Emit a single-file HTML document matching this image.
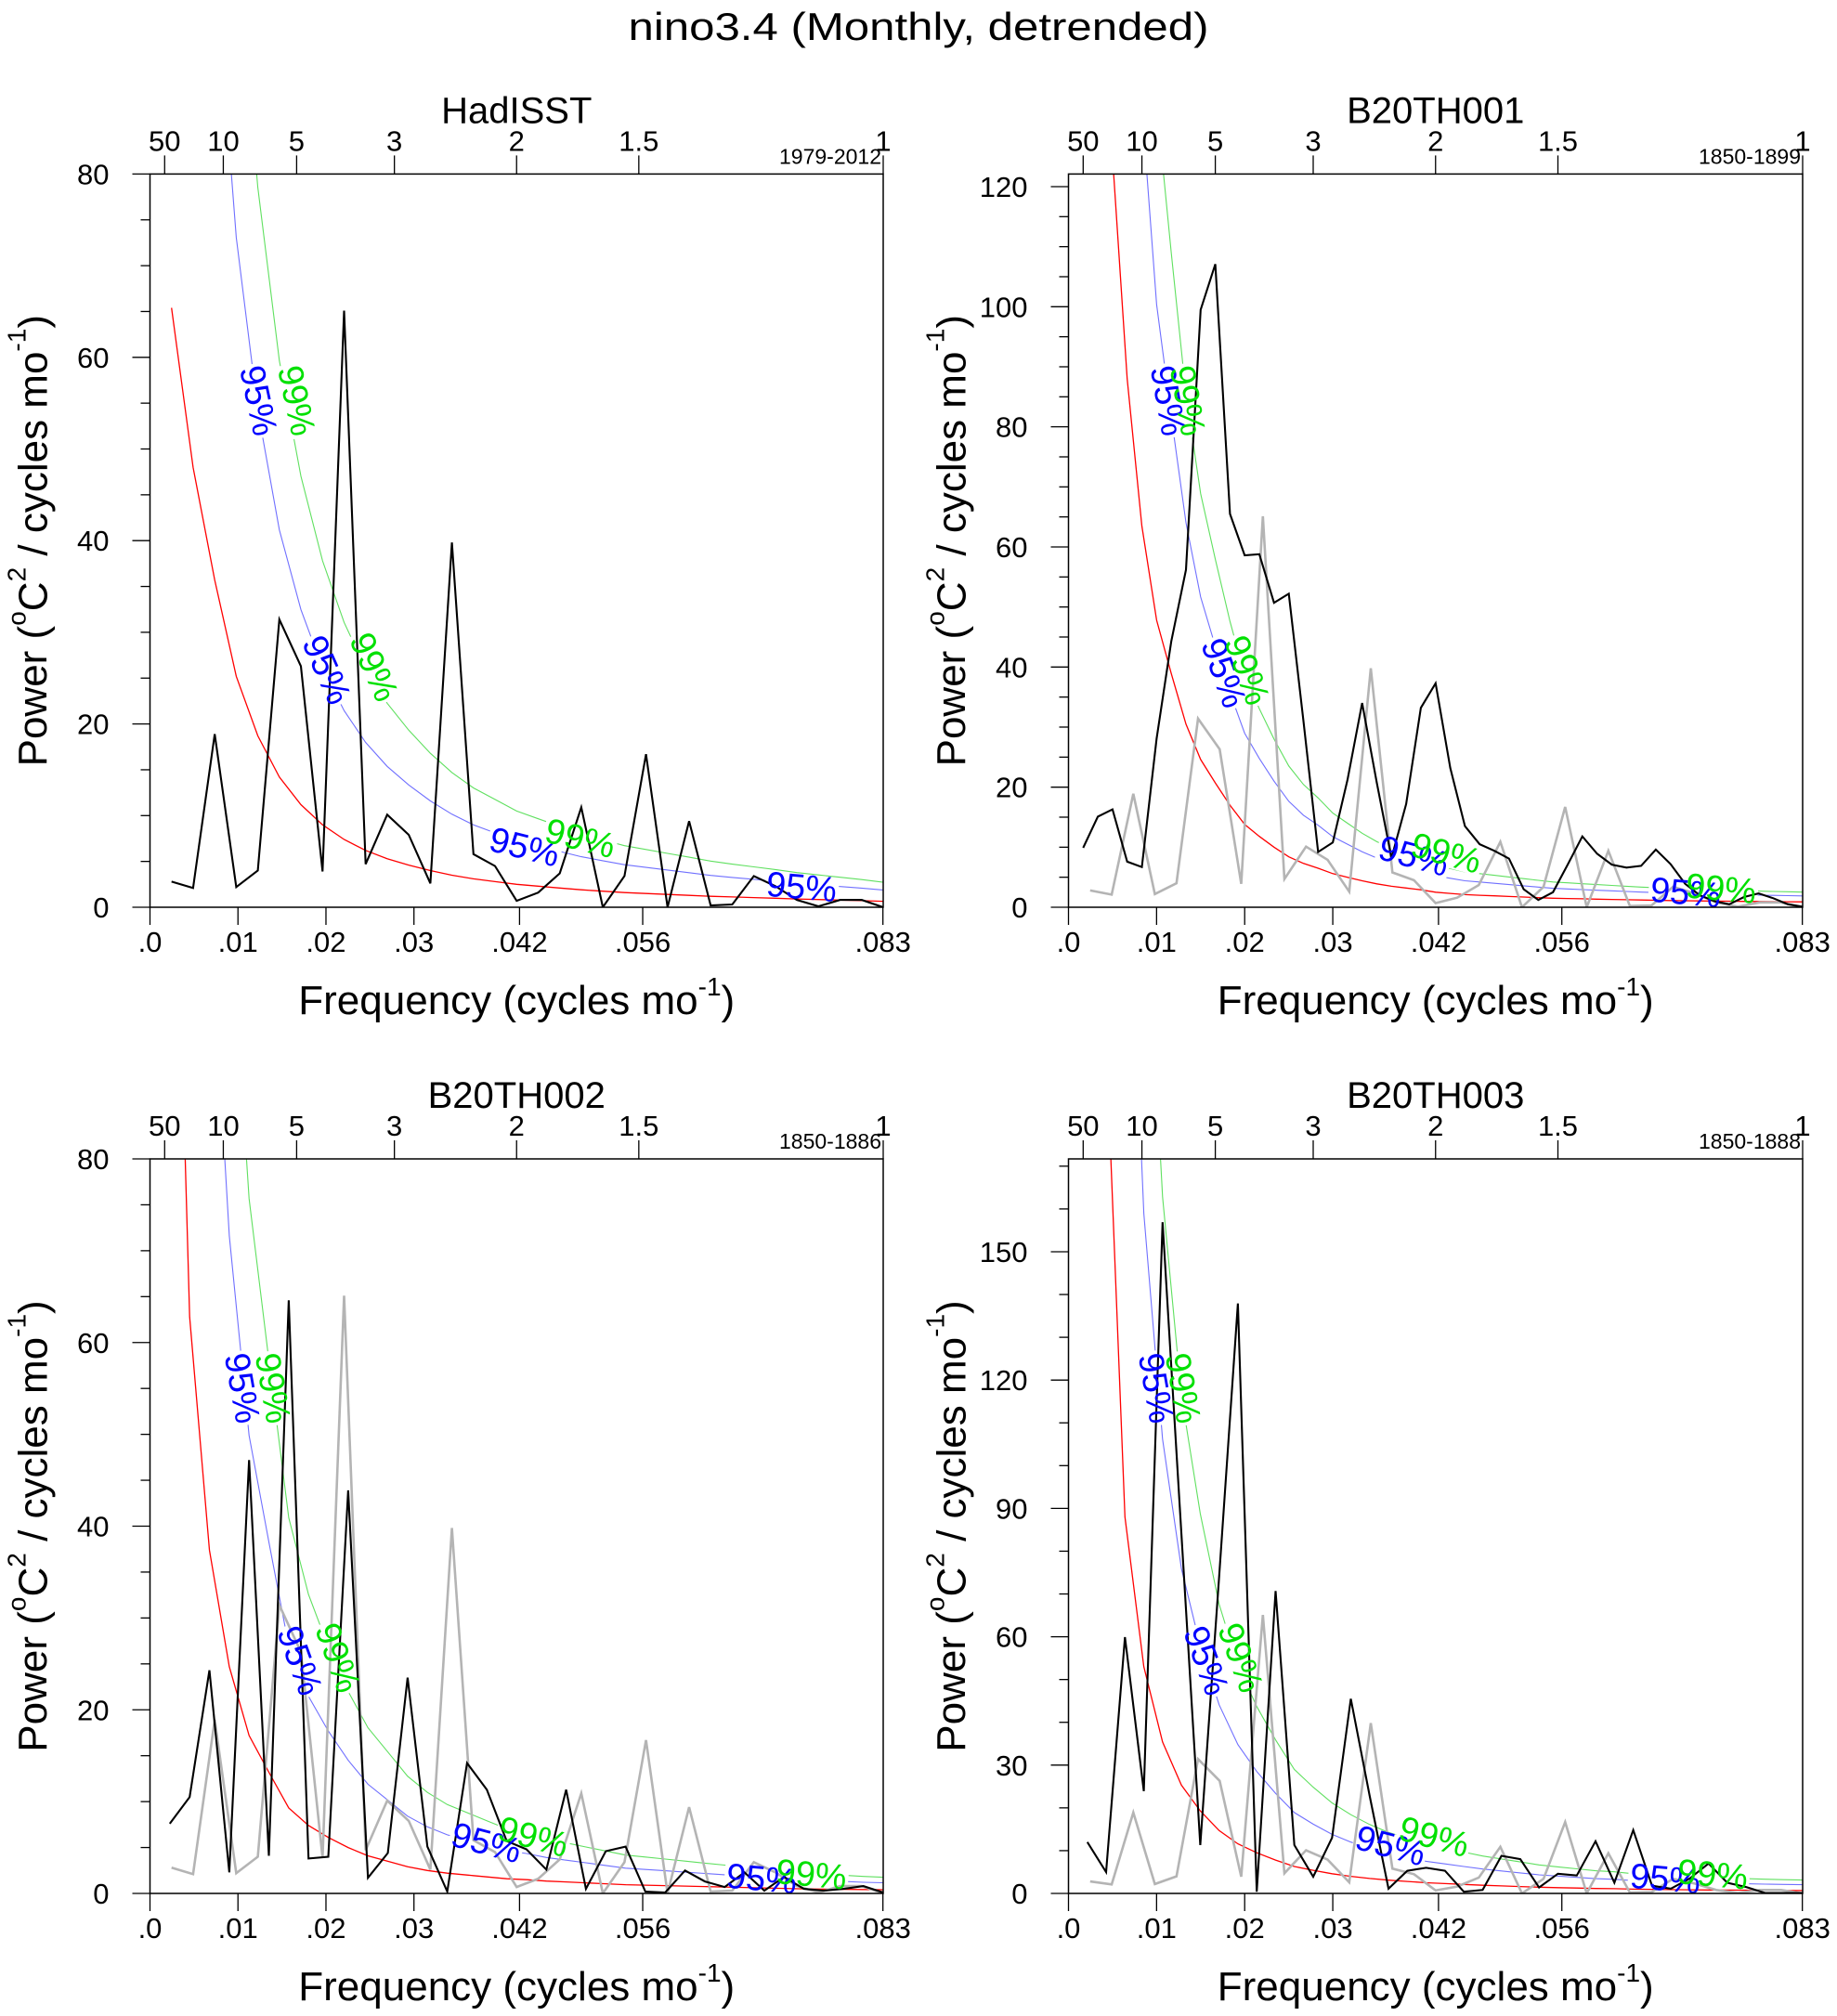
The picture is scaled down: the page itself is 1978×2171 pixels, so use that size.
<!DOCTYPE html>
<html><head><meta charset="utf-8"><style>
html,body{margin:0;padding:0;background:#fff;}
svg{display:block;font-family:"Liberation Sans",Arial,sans-serif;}
</style></head><body>
<svg id="chart" xmlns="http://www.w3.org/2000/svg" width="1978" height="2171" viewBox="0 0 1978 2171">
<rect width="1978" height="2171" fill="#fff"/>
<text x="989" y="43" text-anchor="middle" font-size="42" textLength="625" lengthAdjust="spacingAndGlyphs">nino3.4 (Monthly, detrended)</text>
</svg>
<script>
// ---- data ----
const hadVals = [2.8,2.1,18.9,2.2,4.0,31.4,26.3,3.9,65.1,4.7,10.1,7.9,2.6,39.8,5.8,4.5,0.7,1.6,3.7,10.9,0,3.4,16.7,0,9.4,0.2,0.3,3.4,2.3,0.8,0.1,0.8,0.8,0];
const hadRed = [65.4,48,35.7,25.2,18.7,14.2,11.2,9.0,7.4,6.2,5.3,4.6,4.0,3.5,3.1,2.8,2.5,2.3,2.1,1.9,1.75,1.6,1.5,1.4,1.3,1.2,1.12,1.05,0.98,0.9,0.84,0.78,0.72,0.65];
const b1Vals = [9.9,15.1,16.3,7.6,6.7,28.1,44.3,56.2,99.5,107.1,65.5,58.6,58.8,50.7,52.2,31,9.2,10.8,21.2,34.0,20.7,8.2,17.2,33.2,37.3,23.2,13.5,10.5,9.4,8.1,3.0,1.2,2.5,7.1,11.8,8.9,7.1,6.6,6.9,9.6,7.2,3.9,2.0,1.0,0.5,1.7,2.3,1.5,0.5,0.1];
const b1Red = [250,180,125,88,63.5,47.8,38.9,30.5,24.6,20.7,17,13.8,11.8,10,8.4,7.3,6.5,5.6,5,4.4,3.9,3.5,3.2,2.9,2.5,2.3,2.1,2.0,1.9,1.8,1.7,1.6,1.5,1.45,1.4,1.35,1.3,1.25,1.2,1.16,1.12,1.08,1.05,1.02,1.0,0.98,0.96,0.94,0.92,0.9];
const b2Vals = [7.6,10.5,24.3,2.3,47.2,4.1,64.6,3.8,4.0,43.9,1.7,4.4,23.5,5.1,0.2,14.2,11.3,5.7,4.8,2.6,11.3,0.5,4.6,5.1,0.2,0.1,2.5,1.3,0.7,2.3,0.3,1.8,0.5,0.3,0.5,0.8,0.1];
const b2Red = [140,62.8,37.4,24.7,17.2,13.2,9.3,7.4,6.1,5.0,4.1,3.5,2.9,2.5,2.2,2.0,1.8,1.6,1.5,1.35,1.25,1.15,1.05,0.95,0.9,0.85,0.8,0.75,0.7,0.65,0.6,0.55,0.5,0.47,0.45,0.42,0.4];
const b3Vals = [12.0,5.0,59.9,23.9,156.9,84,11.3,74,137.9,0.4,70.7,11.3,3.9,13.0,45.5,22.8,1.1,5.3,6.0,5.3,0.4,0.8,8.8,8.0,1.4,4.6,4.2,12.2,2.5,14.8,1.8,1.1,3.5,7.0,2.5,1.5,0.1,0.1,0.1];
const b3Red = [400,200,88,53,35.4,25.3,19.3,14.7,11.6,9.5,7.8,6.3,5.4,4.6,4.0,3.5,3.1,2.8,2.5,2.3,2.1,1.9,1.75,1.6,1.45,1.35,1.25,1.15,1.1,1.0,0.95,0.9,0.85,0.8,0.78,0.75,0.72,0.7,0.68];
const xTickVals = [0,0.01,0.02,0.03,0.042,0.056,0.0833];
const xTickLabels = [".0",".01",".02",".03",".042",".056",".083"];
const periodTicks = [50,10,5,3,2,1.5,1];
const panelTitles = ["HadISST","B20TH001","B20TH002","B20TH003"];
const yearLabels = ["1979-2012","1850-1899","1850-1886","1850-1888"];

const NS="http://www.w3.org/2000/svg";
const svg=document.getElementById('chart');
function mk(tag,attrs,parent){const e=document.createElementNS(NS,tag);for(const k in attrs)e.setAttribute(k,attrs[k]);(parent||svg).appendChild(e);return e;}

const XMAX=1/12;
const panels=[
 {L:161.5,R:951,T:187.4,B:977,ymax:80,major:20,minor:5,vals:hadVals,red:hadRed,gray:false,bm:2.9,gm:4.2,n:"hadisst",
  labels:[["95%",277.5,431.6,78,"#0000ff"],["99%",318.5,431.6,78,"#00e000"],["95%",351,721.8,66,"#0000ff"],["99%",402,718.6,66,"#00e000"],["95%",564.5,913,14,"#0000ff"],["99%",624.5,903.6,14,"#00e000"],["95%",863,956,5,"#0000ff"]]},
 {L:1150.5,R:1941,T:187.4,B:977,ymax:122.1,major:20,minor:5,vals:b1Vals,red:b1Red,gray:true,bm:2.1,gm:2.8,n:"b20th001",
  labels:[["95%",1257,431.6,80,"#0000ff"],["99%",1278,431.6,80,"#00e000"],["95%",1317,725,70,"#0000ff"],["99%",1342,722,70,"#00e000"],["95%",1522,922.7,15,"#0000ff"],["99%",1557,919.5,15,"#00e000"],["95%",1815,962,5,"#0000ff"],["99%",1853,957.8,5,"#00e000"]]},
 {L:161.5,R:951,T:1248,B:2039,ymax:80,major:20,minor:5,vals:b2Vals,red:b2Red,gray:true,bm:2.9,gm:4.4,n:"b20th002",
  labels:[["95%",260,1495,80,"#0000ff"],["99%",293,1495,80,"#00e000"],["95%",322,1788.6,70,"#0000ff"],["99%",363,1785.4,70,"#00e000"],["95%",523.5,1985.3,15,"#0000ff"],["99%",574,1978.8,15,"#00e000"],["95%",820,2024,5,"#0000ff"],["99%",873.6,2019.4,5,"#00e000"]]},
 {L:1150.5,R:1941,T:1248,B:2039,ymax:171.7,major:30,minor:10,vals:b3Vals,red:b3Red,gray:true,bm:3.0,gm:4.6,n:"b20th003",
  labels:[["95%",1244,1495,80,"#0000ff"],["99%",1273,1495,80,"#00e000"],["95%",1298,1788.6,70,"#0000ff"],["99%",1335,1785.4,70,"#00e000"],["95%",1497,1988.5,15,"#0000ff"],["99%",1544,1978.8,15,"#00e000"],["95%",1793,2024,5,"#0000ff"],["99%",1844,2019.4,5,"#00e000"]]}
];

panels.forEach((p,pi)=>{
  const g=mk('g',{});
  
  
  const xs=f=>p.L+(f/XMAX)*(p.R-p.L);
  const ys=v=>p.B-(v/p.ymax)*(p.B-p.T);
  const cid='clip'+pi;
  const cp=mk('clipPath',{id:cid},g);
  mk('rect',{x:p.L,y:p.T,width:p.R-p.L,height:p.B-p.T},cp);
  // mask to open gaps in confidence curves under labels
  const mid='mask'+pi;
  const mask=mk('mask',{id:mid,maskUnits:'userSpaceOnUse',x:0,y:0,width:1978,height:2171},g);
  mk('rect',{x:0,y:0,width:1978,height:2171,fill:'#fff'},mask);
  p.labels.forEach(l=>{
    mk('rect',{x:l[1]-40,y:l[2]-14,width:80,height:28,fill:'#000',transform:`rotate(${l[3]} ${l[1]} ${l[2]})`},mask);
  });
  const plot=mk('g',{'clip-path':'url(#'+cid+')'},g);
  const confG=mk('g',{mask:'url(#'+mid+')'},plot);
  function line(vals,mult,color,w,name,parent){
    const n=vals.length;
    const pts=vals.map((v,i)=>xs((i+1)/n*XMAX).toFixed(1)+','+ys(v*mult).toFixed(1)).join(' ');
    const el=mk('polyline',{points:pts,fill:'none',stroke:color,'stroke-width':w,'stroke-linejoin':'miter'},parent||plot);
    
    
  }
  line(p.red,1,'#ff0000',1.3,'red-noise-curve');
  line(p.red,p.bm,'#7070ff',1.1,'confidence-95-curve',confG);
  line(p.red,p.gm,'#60e060',1.1,'confidence-99-curve',confG);
  if(p.gray) line(hadVals,1,'#b4b4b4',2.6,'hadisst-reference-line');
  line(p.vals,1,'#000',2.1,'power-spectrum-line');
  p.labels.forEach(l=>{
    const t=mk('text',{x:l[1],y:l[2],'font-size':38,fill:l[4],'text-anchor':'middle','dominant-baseline':'central',transform:`rotate(${l[3]} ${l[1]} ${l[2]})`},g);
    t.textContent=l[0];
    
    
  });
  const fr=mk('rect',{x:p.L,y:p.T,width:p.R-p.L,height:p.B-p.T,fill:'none',stroke:'#000','stroke-width':1.5},g);
  
  
  for(let v=0;v<=p.ymax+1e-6;v+=p.minor){
    const isMaj=Math.abs(v/p.major-Math.round(v/p.major))<1e-6;
    const y=ys(v);
    mk('line',{x1:p.L-(isMaj?19:10),x2:p.L,y1:y,y2:y,stroke:'#000','stroke-width':1.3},g);
    if(isMaj){
      const t=mk('text',{x:p.L-44,y:y+11,'font-size':31,'text-anchor':'end'},g);
      t.textContent=String(v);
      
      
    }
  }
  xTickVals.forEach((f,i)=>{
    const x=xs(f);
    mk('line',{x1:x,x2:x,y1:p.B,y2:p.B+19,stroke:'#000','stroke-width':1.3},g);
    const t=mk('text',{x:x,y:p.B+48,'font-size':31,'text-anchor':'middle'},g);
    t.textContent=xTickLabels[i];
    
    
  });
  periodTicks.forEach(per=>{
    const x=xs(1/(per*12));
    mk('line',{x1:x,x2:x,y1:p.T,y2:p.T-20,stroke:'#000','stroke-width':1.3},g);
    const t=mk('text',{x:x,y:p.T-25,'font-size':31,'text-anchor':'middle'},g);
    t.textContent=String(per);
    
    
  });
  const yr=mk('text',{x:p.R-2,y:p.T-11,'font-size':23,'text-anchor':'end'},g);
  yr.textContent=yearLabels[pi];
  
  
  const ti=mk('text',{x:(p.L+p.R)/2,y:p.T-55,'font-size':40,'text-anchor':'middle'},g);
  ti.textContent=panelTitles[pi];
  
  
  const xt=mk('text',{x:(p.L+p.R)/2,y:p.B+115,'font-size':44,'text-anchor':'middle'},g);
  xt.innerHTML='Frequency (cycles mo<tspan font-size="28" dy="-20">-1</tspan><tspan dy="20">)</tspan>';
  
  
  const cx=p.L-126, cy=(p.T+p.B)/2;
  const yt=mk('text',{x:cx,y:cy,'font-size':44,'text-anchor':'middle','dominant-baseline':'central',transform:`rotate(-90 ${cx} ${cy})`},g);
  yt.innerHTML='Power (<tspan font-size="28" dy="-18">o</tspan><tspan dy="18">C</tspan><tspan font-size="28" dy="-18">2</tspan><tspan dy="18"> / cycles mo</tspan><tspan font-size="28" dy="-18">-1</tspan><tspan dy="18">)</tspan>';
  
  
});
</script>
</body></html>
